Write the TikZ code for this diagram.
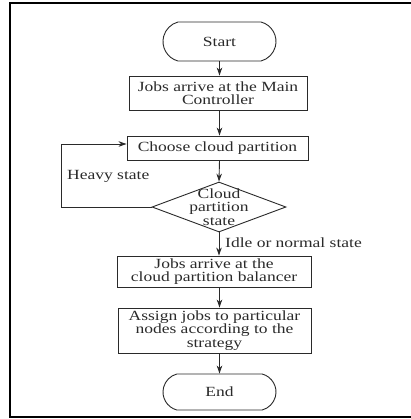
\documentclass[tikz,border=0pt]{standalone}
\usepackage{fontspec}
\setmainfont[FakeStretch=1.25]{Liberation Serif}
\usetikzlibrary{shapes.geometric,shapes.misc,arrows.meta}
\definecolor{ink}{HTML}{2A2A2A}
\begin{document}
\begin{tikzpicture}[x=1bp,y=-1bp,
  every node/.style={font=\fontsize{14bp}{13.5bp}\selectfont, text=ink, inner sep=0pt, align=center},
  term/.style={draw=ink, line width=0.9bp, rounded rectangle, rounded rectangle arc length=150, minimum width=113bp},
  procbox/.style={draw=ink, line width=0.9bp, rectangle},
  decide/.style={draw=ink, line width=0.9bp, diamond, aspect=2.68, minimum width=134bp, minimum height=50bp},
  arr/.style={draw=ink, line width=0.9bp, -{Stealth[length=8bp,width=5.5bp]}},
  lab/.style={anchor=west}
]
\useasboundingbox (0,0) rectangle (411,419);
\fill[white] (0,0) rectangle (411,419);
\draw[line width=2bp, black] (10,3) rectangle (414,417);

\node[term, minimum height=39bp] (start) at (219.5,41.5) {Start};
\node[procbox, minimum width=178bp, minimum height=34bp] (b1) at (218,93) {Jobs arrive at the Main\\Controller};
\node[procbox, minimum width=181bp, minimum height=24bp] (b2) at (217.5,148) {Choose cloud partition};
\node[decide, inner sep=0pt] (d) at (219,207) {};
\node at (219,207) {Cloud\\partition\\state};
\node[procbox, minimum width=194bp, minimum height=31bp] (b3) at (214,271.5) {Jobs arrive at the\\cloud partition balancer};
\node[procbox, minimum width=193bp, minimum height=45bp] (b4) at (214.5,330.5) {Assign jobs to particular\\nodes according to the\\strategy};
\node[term, minimum height=36bp] (end) at (219.5,392) {End};

\coordinate (la) at (61,207);
\coordinate (lb) at (61,144);

\draw[arr] (start.south) -- (start.south |- b1.north);
\draw[arr] (start.south |- b1.south) -- (start.south |- b2.north);
\draw[arr] (start.south |- b2.south) -- (d.north);
\draw[arr] (d.south) -- (d.south |- b3.north);
\draw[arr] (start.south |- b3.south) -- (start.south |- b4.north);
\draw[arr] (start.south |- b4.south) -- (end.north);
\draw[arr] (d.west) -- (la) -- (lb) -- (lb -| b2.west);

\node[lab] (hs) at (67,176) {Heavy state};
\node[lab] (ins) at (225,243) {Idle or normal state};
\end{tikzpicture}
\end{document}
